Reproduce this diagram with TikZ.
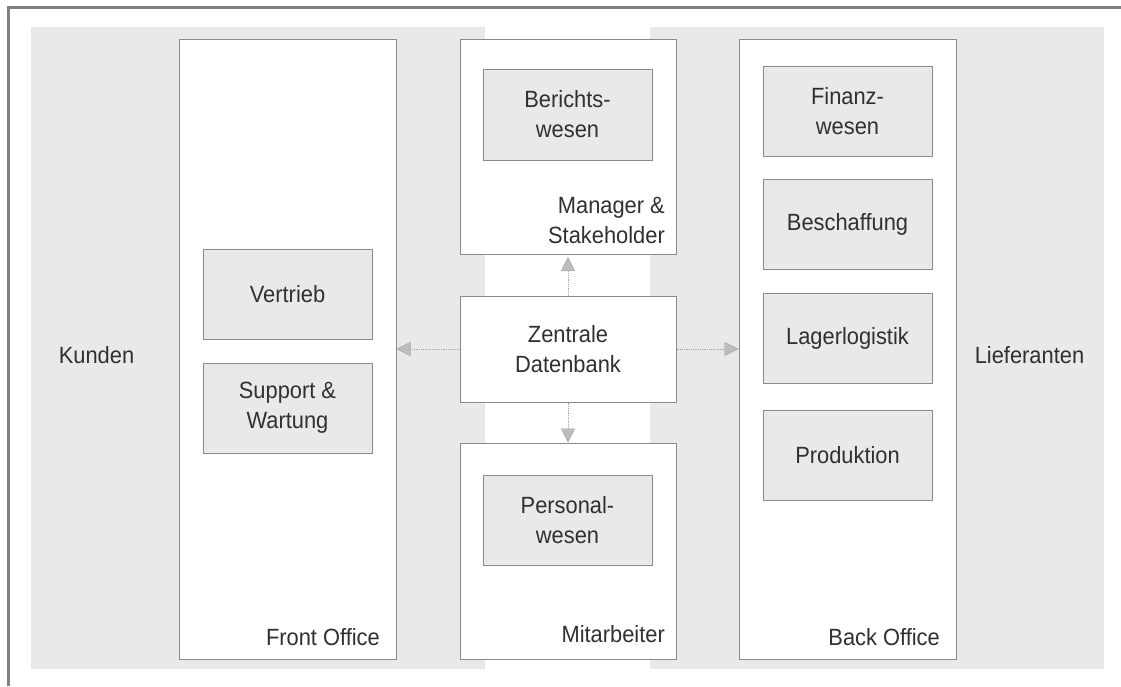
\documentclass[tikz,border=0pt]{standalone}
\usepackage{fontspec}
\setmainfont{Liberation Sans}[FakeStretch=0.93]
\usetikzlibrary{arrows.meta}
\definecolor{txt}{HTML}{303030}
\definecolor{edge}{HTML}{8A8A8A}
\definecolor{zone}{HTML}{E9E9E9}
\definecolor{frame}{HTML}{808080}
\definecolor{link}{HTML}{A8A8A8}
\definecolor{tipfill}{HTML}{BDBDBD}
\tikzset{
  base/.style={text=txt, font=\fontsize{23.5}{30}\selectfont, align=center, inner sep=0pt},
  office/.style={base, draw=edge, line width=1pt, fill=white, minimum width=217pt},
  unit/.style={base, draw=edge, line width=1pt, fill=zone, minimum width=169pt, minimum height=90pt},
  tag/.style={base, align=right, anchor=base east},
  conn/.style={draw=link, line width=0.8pt, densely dotted,
    -{Triangle[width=14pt,length=14pt,color=link,fill=tipfill,line width=0.6pt]}}
}
\begin{document}
\begin{tikzpicture}[x=1pt,y=-1pt]
\useasboundingbox (0,0) rectangle (1121,686);
% outer frame (top and left edges)
\draw[frame, line width=3pt] (8.5,686) -- (8.5,7.5) -- (1121,7.5);
% shaded zones for customers and suppliers
\fill[zone] (31,27) rectangle (485,669);
\fill[zone] (650,27) rectangle (1104,669);
% office columns
\node[office, minimum height=620pt] (fo) at (287.5,349) {};
\node[office, minimum height=620pt] (bo) at (847.5,349) {};
\node[office, minimum width=216pt, minimum height=215pt] (mg) at (568,146.5) {};
\node[office, minimum width=216pt, minimum height=216pt] (ma) at (568,551) {};
\node[office, minimum width=216pt, minimum height=106pt] (db) at (568,349) {Zentrale\\Datenbank};
% column labels (base anchor sits on the last line)
\node[tag] (fol) at (380,645) {Front Office};
\node[tag] (bol) at (940,645) {Back Office};
\node[tag] (mgl) at (665,243) {Manager \&\\Stakeholder};
\node[tag] (mal) at (665,642) {Mitarbeiter};
% side labels
\node[base] (ku) at (96.5,355) {Kunden};
\node[base] (li) at (1029.5,355) {Lieferanten};
% functional units
\node[unit] (vt) at (287.5,294) {Vertrieb};
\node[unit] (sw) at (287.5,408) {Support \&\\Wartung};
\node[unit, minimum height=91pt] (bw) at (567.5,114.5) {Berichts-\\wesen};
\node[unit] (pw) at (567.5,520) {Personal-\\wesen};
\node[unit] (fw) at (847.5,111) {Finanz-\\wesen};
\node[unit] (bs) at (847.5,224.5) {Beschaffung};
\node[unit] (ll) at (847.5,338) {Lagerlogistik};
\node[unit] (pr) at (847.5,455) {Produktion};
% data flows from the central database
\draw[conn] (db.west) -- (fo.east);
\draw[conn] (db.east) -- (bo.west);
\draw[conn, shorten >=2.5pt] (db.north) -- (mg.south);
\draw[conn] (db.south) -- (ma.north);
\end{tikzpicture}
\end{document}
